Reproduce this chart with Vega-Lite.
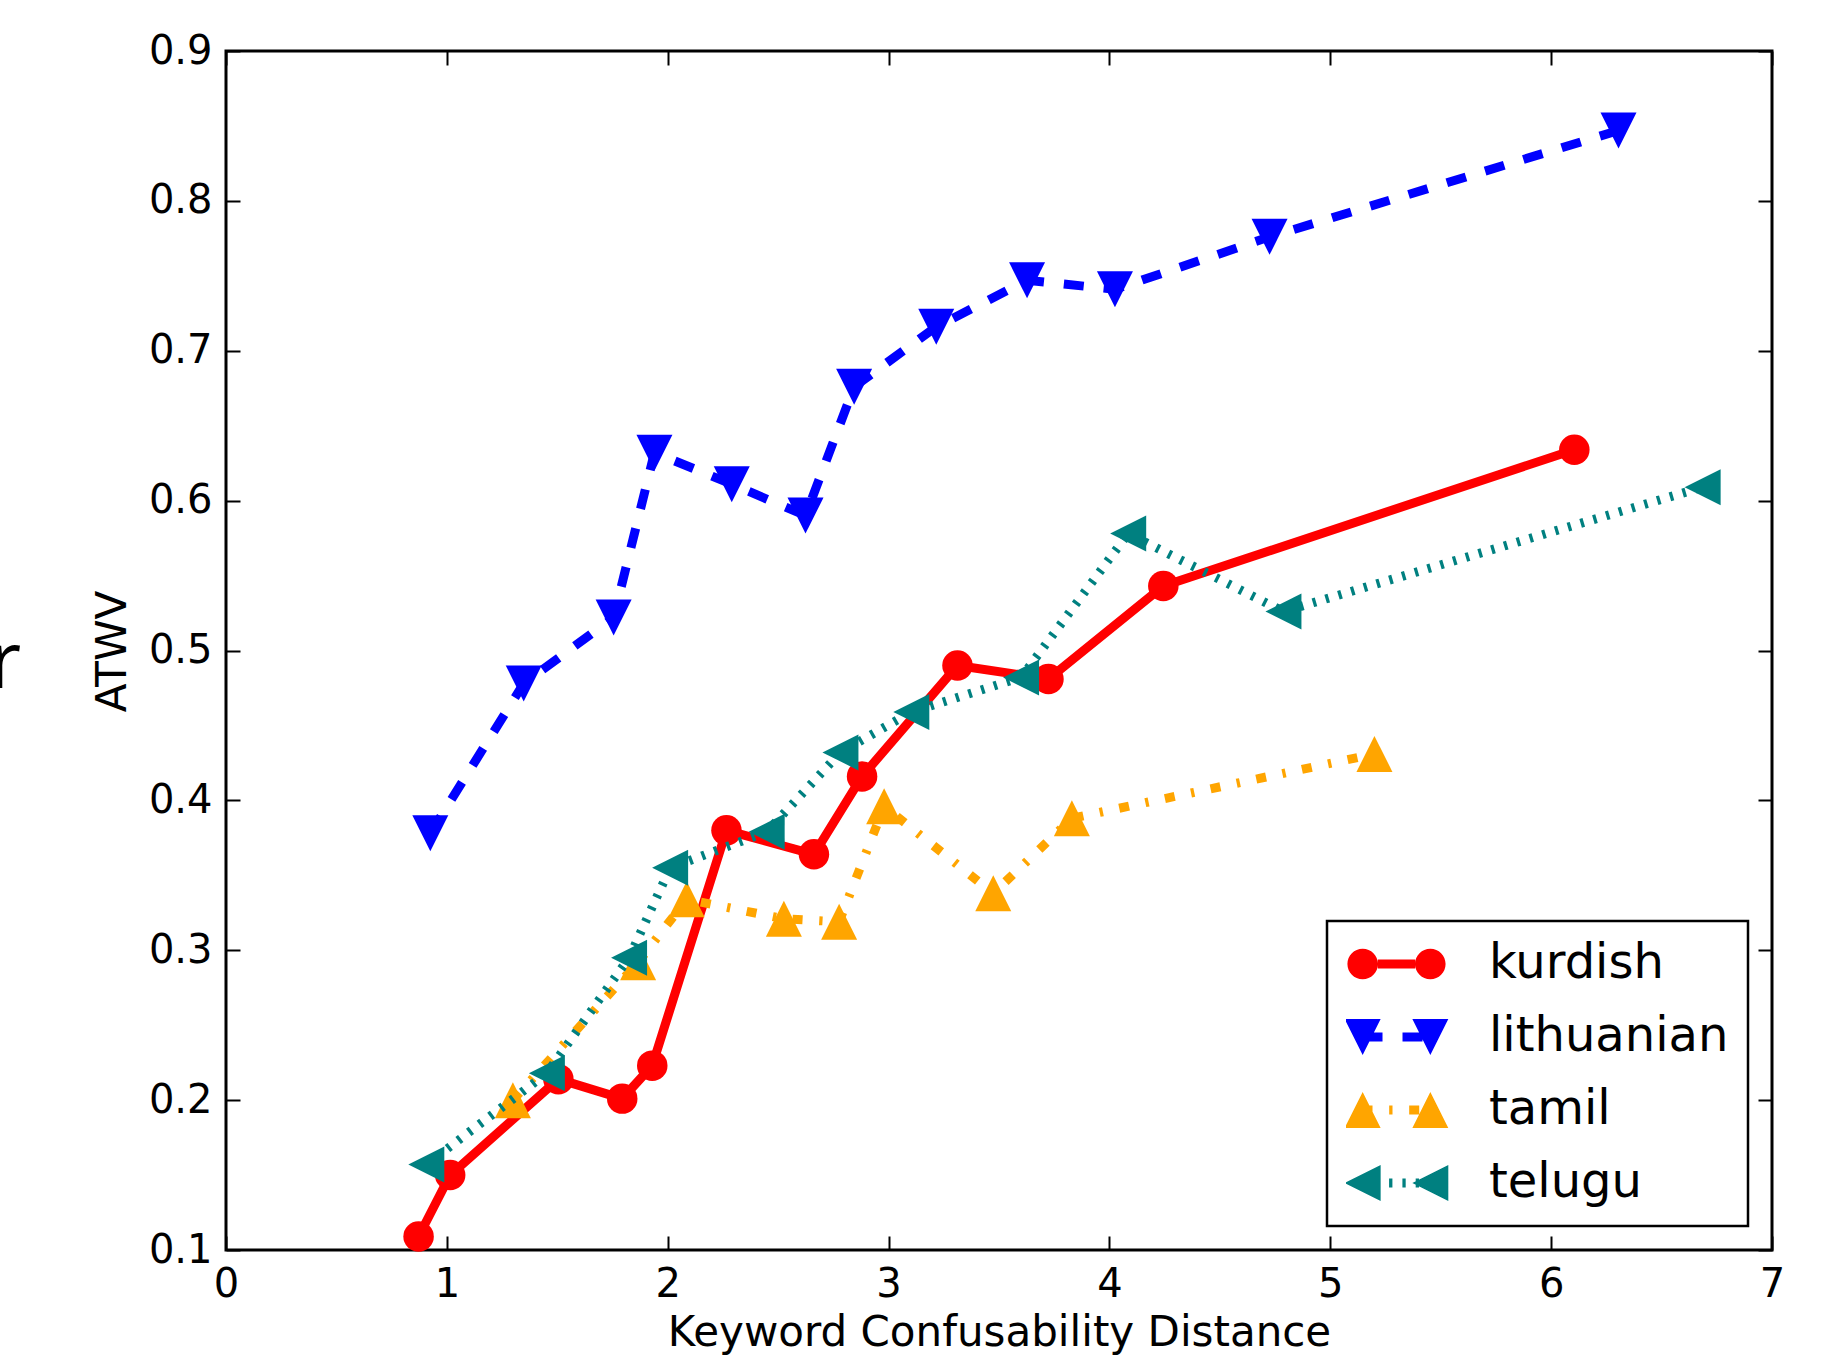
{
  "$schema": "https://vega.github.io/schema/vega-lite/v6.json",
  "width": 1546,
  "height": 1199,
  "autosize": {"type": "none"},
  "padding": {"left": 226, "top": 51, "right": 54, "bottom": 107},
  "background": "white",
  "datasets": {
    "atwv": [
      {"series": "kurdish", "x": 0.872, "y": 0.109},
      {"series": "kurdish", "x": 1.015, "y": 0.150},
      {"series": "kurdish", "x": 1.505, "y": 0.214},
      {"series": "kurdish", "x": 1.794, "y": 0.201},
      {"series": "kurdish", "x": 1.930, "y": 0.223},
      {"series": "kurdish", "x": 2.266, "y": 0.380},
      {"series": "kurdish", "x": 2.662, "y": 0.364},
      {"series": "kurdish", "x": 2.880, "y": 0.416},
      {"series": "kurdish", "x": 3.312, "y": 0.490},
      {"series": "kurdish", "x": 3.724, "y": 0.481},
      {"series": "kurdish", "x": 4.244, "y": 0.543},
      {"series": "kurdish", "x": 6.105, "y": 0.634},
      {"series": "lithuanian", "x": 0.925, "y": 0.378},
      {"series": "lithuanian", "x": 1.348, "y": 0.478},
      {"series": "lithuanian", "x": 1.755, "y": 0.522},
      {"series": "lithuanian", "x": 1.940, "y": 0.632},
      {"series": "lithuanian", "x": 2.290, "y": 0.611},
      {"series": "lithuanian", "x": 2.624, "y": 0.590},
      {"series": "lithuanian", "x": 2.844, "y": 0.676},
      {"series": "lithuanian", "x": 3.216, "y": 0.716},
      {"series": "lithuanian", "x": 3.627, "y": 0.747},
      {"series": "lithuanian", "x": 4.025, "y": 0.741},
      {"series": "lithuanian", "x": 4.725, "y": 0.776},
      {"series": "lithuanian", "x": 6.305, "y": 0.847},
      {"series": "tamil", "x": 1.299, "y": 0.200},
      {"series": "tamil", "x": 1.866, "y": 0.292},
      {"series": "tamil", "x": 2.086, "y": 0.334},
      {"series": "tamil", "x": 2.526, "y": 0.321},
      {"series": "tamil", "x": 2.776, "y": 0.319},
      {"series": "tamil", "x": 2.980, "y": 0.396},
      {"series": "tamil", "x": 3.474, "y": 0.338},
      {"series": "tamil", "x": 3.830, "y": 0.388},
      {"series": "tamil", "x": 5.200, "y": 0.431},
      {"series": "telugu", "x": 0.907, "y": 0.157},
      {"series": "telugu", "x": 1.453, "y": 0.218},
      {"series": "telugu", "x": 1.825, "y": 0.295},
      {"series": "telugu", "x": 2.011, "y": 0.355},
      {"series": "telugu", "x": 2.448, "y": 0.379},
      {"series": "telugu", "x": 2.782, "y": 0.432},
      {"series": "telugu", "x": 3.103, "y": 0.459},
      {"series": "telugu", "x": 3.600, "y": 0.482},
      {"series": "telugu", "x": 4.085, "y": 0.578},
      {"series": "telugu", "x": 4.788, "y": 0.526},
      {"series": "telugu", "x": 6.686, "y": 0.609}
    ],
    "margin_text": [
      {"x": -1.072, "y": 0.475, "label": "r"}
    ]
  },
  "data": {"name": "atwv"},
  "encoding": {
    "x": {"field": "x", "type": "quantitative", "scale": {"domain": [0, 7], "nice": false, "zero": false}, "axis": null},
    "y": {"field": "y", "type": "quantitative", "scale": {"domain": [0.1, 0.9], "nice": false, "zero": false}, "axis": null}
  },
  "layer": [
    {
      "transform": [{"filter": "datum.series === 'kurdish'"}],
      "mark": {"type": "line", "color": "#ff0000", "strokeWidth": 9, "strokeJoin": "round"},
      "encoding": {
        "x": {
          "field": "x", "type": "quantitative",
          "scale": {"domain": [0, 7], "nice": false, "zero": false},
          "axis": {
            "orient": "bottom", "values": [0, 1, 2, 3, 4, 5, 6, 7], "format": "d",
            "labelFlush": false, "labelOverlap": false,
            "title": "Keyword Confusability Distance",
            "titleX": 773, "titleY": 95, "titleAlign": "center", "titleBaseline": "alphabetic"
          }
        },
        "y": {
          "field": "y", "type": "quantitative",
          "scale": {"domain": [0.1, 0.9], "nice": false, "zero": false},
          "axis": {
            "orient": "left", "values": [0.1, 0.2, 0.3, 0.4, 0.5, 0.6, 0.7, 0.8, 0.9], "format": ".1f",
            "labelFlush": false, "labelOverlap": false,
            "title": "ATWV", "titleAngle": 270,
            "titleX": -101, "titleY": 600, "titleAlign": "center", "titleBaseline": "alphabetic"
          }
        }
      }
    },
    {
      "transform": [{"filter": "datum.series === 'kurdish'"}],
      "mark": {"type": "point", "shape": "circle", "size": 930, "filled": true, "opacity": 1, "color": "#ff0000"}
    },
    {
      "transform": [{"filter": "datum.series === 'lithuanian'"}],
      "mark": {"type": "line", "color": "#0000ff", "strokeWidth": 9, "strokeDash": [20, 20]}
    },
    {
      "transform": [{"filter": "datum.series === 'lithuanian'"}],
      "mark": {"type": "point", "shape": "M0,1L-1,-1L1,-1Z", "size": 1296, "filled": true, "opacity": 1, "color": "#0000ff"}
    },
    {
      "transform": [{"filter": "datum.series === 'tamil'"}],
      "mark": {"type": "line", "color": "#ffa500", "strokeWidth": 9, "strokeDash": [10, 16.7, 3.3, 16.7]}
    },
    {
      "transform": [{"filter": "datum.series === 'tamil'"}],
      "mark": {"type": "point", "shape": "M0,-1L1,1L-1,1Z", "size": 1296, "filled": true, "opacity": 1, "color": "#ffa500"}
    },
    {
      "transform": [{"filter": "datum.series === 'telugu'"}],
      "mark": {"type": "line", "color": "#008080", "strokeWidth": 9, "strokeDash": [3.3, 10]}
    },
    {
      "transform": [{"filter": "datum.series === 'telugu'"}],
      "mark": {"type": "point", "shape": "M-1,0L1,-1L1,1Z", "size": 1296, "filled": true, "opacity": 1, "color": "#008080"}
    },
    {
      "transform": [{"filter": "false"}],
      "mark": {"type": "point", "filled": true, "opacity": 1},
      "encoding": {
        "x": {
          "field": "x", "type": "quantitative",
          "scale": {"domain": [0, 7], "nice": false, "zero": false},
          "axis": {"orient": "top", "values": [0, 1, 2, 3, 4, 5, 6, 7], "labels": false, "title": null}
        },
        "y": {
          "field": "y", "type": "quantitative",
          "scale": {"domain": [0.1, 0.9], "nice": false, "zero": false},
          "axis": {"orient": "right", "values": [0.1, 0.2, 0.3, 0.4, 0.5, 0.6, 0.7, 0.8, 0.9], "labels": false, "title": null}
        },
        "color": {
          "field": "series", "type": "nominal",
          "scale": {"domain": ["kurdish", "lithuanian", "tamil", "telugu"], "range": ["#ff0000", "#0000ff", "#ffa500", "#008080"]},
          "legend": {"title": null}
        },
        "shape": {
          "field": "series", "type": "nominal",
          "scale": {
            "domain": ["kurdish", "lithuanian", "tamil", "telugu"],
            "range": [
              "M-0.972,0A0.302,0.302 0 1,1 -0.368,0A0.302,0.302 0 1,1 -0.972,0ZM0.368,0A0.302,0.302 0 1,1 0.972,0A0.302,0.302 0 1,1 0.368,0ZM-0.37,-0.089L0.37,-0.089L0.37,0.089L-0.37,0.089Z",
              "M-1.026,-0.356L-0.314,-0.356L-0.67,0.356ZM0.314,-0.356L1.026,-0.356L0.67,0.356ZM-0.67,-0.089L-0.277,-0.089L-0.277,0.089L-0.67,0.089ZM0.119,-0.089L0.515,-0.089L0.515,0.089L0.119,0.089Z",
              "M-0.67,-0.356L-0.314,0.356L-1.026,0.356ZM0.67,-0.356L1.026,0.356L0.314,0.356ZM-0.67,-0.089L-0.475,-0.089L-0.475,0.089L-0.67,0.089ZM-0.145,-0.089L-0.079,-0.089L-0.079,0.089L-0.145,0.089ZM0.251,-0.089L0.45,-0.089L0.45,0.089L0.251,0.089Z",
              "M-1.026,0L-0.314,-0.356L-0.314,0.356ZM0.314,0L1.026,-0.356L1.026,0.356ZM-0.147,-0.089L-0.081,-0.089L-0.081,0.089L-0.147,0.089ZM0.117,-0.089L0.182,-0.089L0.182,0.089L0.117,0.089ZM0.38,-0.089L0.446,-0.089L0.446,0.089L0.38,0.089Z"
            ]
          },
          "legend": {"title": null}
        }
      }
    },
    {
      "data": {"name": "margin_text"},
      "mark": {"type": "text", "font": "Open Sans", "fontSize": 78, "align": "left", "baseline": "alphabetic", "color": "black"},
      "encoding": {"text": {"field": "label"}}
    }
  ],
  "resolve": {"axis": {"x": "independent", "y": "independent"}},
  "config": {
    "font": "DejaVu Sans",
    "view": {"stroke": "black", "strokeWidth": 3},
    "axis": {
      "labelFont": "DejaVu Sans", "labelFontSize": 40, "labelColor": "black", "labelPadding": 28,
      "titleFont": "DejaVu Sans", "titleFontSize": 42, "titleFontWeight": "normal", "titleColor": "black",
      "tickColor": "black", "tickSize": -14, "tickWidth": 2,
      "domain": false, "grid": false
    },
    "legend": {
      "orient": "bottom-right", "offset": 24, "padding": 19,
      "strokeColor": "black", "strokeWidth": 2.5, "fillColor": "white", "cornerRadius": 0,
      "labelFont": "DejaVu Sans", "labelFontSize": 48, "labelColor": "black", "labelOffset": 42, "labelLimit": 0,
      "symbolSize": 10201, "symbolStrokeWidth": 0, "symbolOpacity": 1,
      "clipHeight": 48, "rowPadding": 25
    }
  }
}
